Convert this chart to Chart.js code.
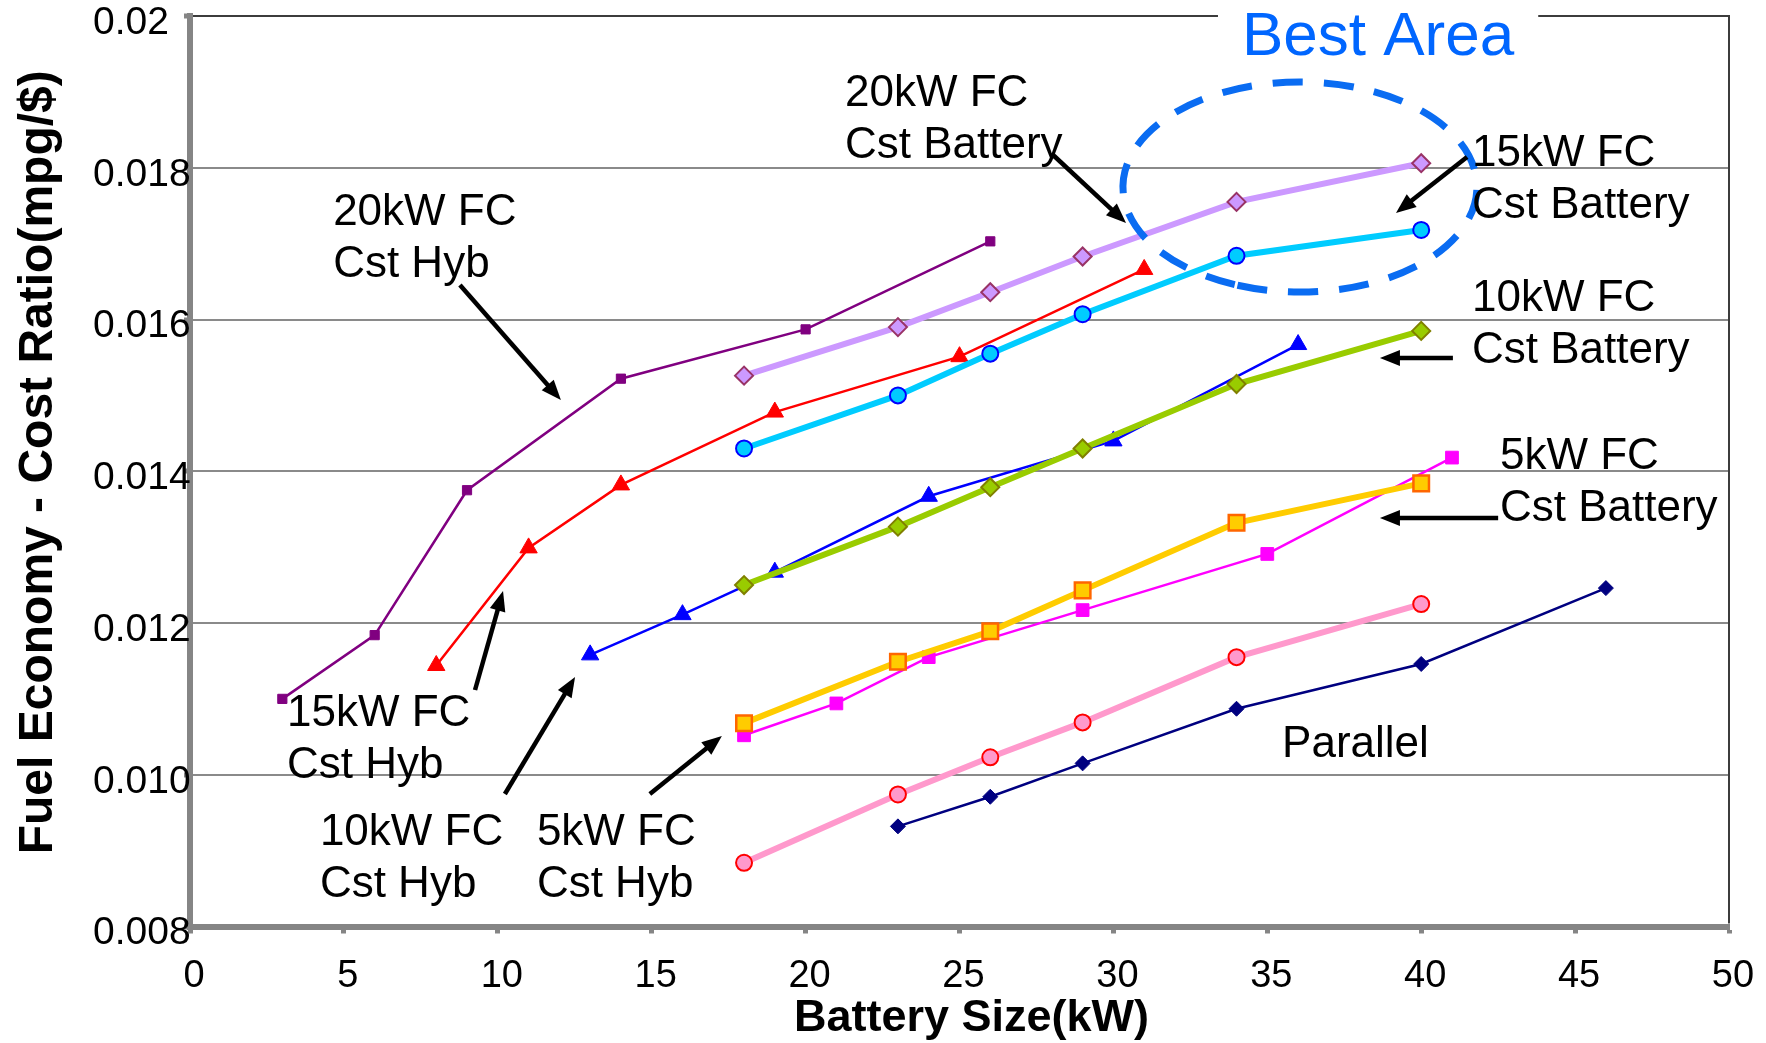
<!DOCTYPE html>
<html>
<head>
<meta charset="utf-8">
<title>Fuel Economy - Cost Ratio vs Battery Size</title>
<script src="https://cdn.jsdelivr.net/npm/chart.js@4/dist/chart.umd.min.js"></script>
<style>
  html, body { margin: 0; padding: 0; background: #ffffff; }
  #wrap { width: 1766px; height: 1043px; }
</style>
</head>
<body>
<div id="wrap"><canvas id="chart" width="1766" height="1043"></canvas></div>
<script>
// Battery sizes (kW) shared by the constant-battery series
const batteryKW = [18, 23, 26, 29, 34, 40];

// Constant-hybridization series
const hyb20KW = [3, 6, 9, 14, 20, 26];
const hyb20Ratio = [0.01100, 0.01184, 0.01375, 0.01522, 0.01587, 0.01703];
const hyb15KW = [8, 11, 14, 19, 25, 31];
const hyb15Ratio = [0.01144, 0.01299, 0.01382, 0.01478, 0.01551, 0.01666];
const hyb10KW = [13, 16, 19, 24, 30, 36];
const hyb10Ratio = [0.01158, 0.01211, 0.01267, 0.01367, 0.01440, 0.01567];
const hyb5KW = [18, 21, 24, 29, 35, 41];
const hyb5Ratio = [0.01052, 0.01094, 0.01155, 0.01217, 0.01291, 0.01418];

// Constant-battery series
const bat20Ratio = [0.01526, 0.01590, 0.01636, 0.01683, 0.01755, 0.01806];
const bat15Ratio = [0.01430, 0.01500, 0.01555, 0.01607, 0.01684, 0.01718];
const bat10Ratio = [0.01250, 0.01327, 0.01379, 0.01430, 0.01515, 0.01585];
const bat5Ratio = [0.01068, 0.01149, 0.01189, 0.01243, 0.01332, 0.01384];

// Parallel configurations
const parallelAKW = [18, 23, 26, 29, 34, 40];
const parallelARatio = [0.00884, 0.00974, 0.01023, 0.01069, 0.01155, 0.01225];
const parallelBKW = [23, 26, 29, 34, 40, 46];
const parallelBRatio = [0.00932, 0.00971, 0.01015, 0.01087, 0.01146, 0.01246];

// Axis tick labels
const yTickLabels = ['0.008', '0.010', '0.012', '0.014', '0.016', '0.018', '0.02'];
const xTickLabels = ['0', '5', '10', '15', '20', '25', '30', '35', '40', '45', '50'];

// Callout texts, anchored in data units (kW, mpg/$) at the first baseline
const callouts = [
  { lines: ['20kW FC', 'Cst Hyb'], x: 4.65, y: 0.017245 },
  { lines: ['20kW FC', 'Cst Battery'], x: 21.28, y: 0.018814 },
  { lines: ['15kW FC', 'Cst Battery'], x: 41.65, y: 0.018023 },
  { lines: ['10kW FC', 'Cst Battery'], x: 41.65, y: 0.016112 },
  { lines: ['5kW FC', 'Cst Battery'], x: 42.56, y: 0.014030 },
  { lines: ['15kW FC', 'Cst Hyb'], x: 3.15, y: 0.010642 },
  { lines: ['10kW FC', 'Cst Hyb'], x: 4.22, y: 0.009074 },
  { lines: ['5kW FC', 'Cst Hyb'], x: 11.27, y: 0.009074 },
  { lines: ['Parallel'], x: 35.48, y: 0.010234 }
];

// Pointer arrows: tail -> head, in data units
const pointers = [
  { from: [8.77, 0.016455], to: [12.05, 0.014939] },
  { from: [28.04, 0.018168], to: [30.41, 0.017272] },
  { from: [41.49, 0.018142], to: [39.18, 0.017404] },
  { from: [41.03, 0.015493], to: [38.66, 0.015493] },
  { from: [42.50, 0.013384], to: [38.66, 0.013384] },
  { from: [9.26, 0.011117], to: [10.17, 0.012422] },
  { from: [10.23, 0.009746], to: [12.51, 0.011288] },
  { from: [14.94, 0.009746], to: [17.28, 0.010511] }
];

// Highlighted region
const bestArea = { text: 'Best Area', x: 38.6, y: 0.019486, cx: 36.06, cy: 0.017746, rx: 5.75, ry: 0.001384 };

const FONT = '"Liberation Sans", Arial, Helvetica, sans-serif';
const AXIS_GRAY = '#858585';

function series(label, xs, ys, style) {
  return Object.assign({
    label,
    data: xs.map((x, i) => ({ x, y: ys[i] })),
    showLine: true,
    fill: false,
    tension: 0
  }, style);
}

const datasets = [
  series('20kW FC Cst Battery', batteryKW, bat20Ratio, {
    borderColor: '#cc99ff', borderWidth: 6,
    pointStyle: 'rectRot', pointRadius: 9,
    pointBackgroundColor: '#cc99ff', pointBorderColor: '#993366', pointBorderWidth: 2
  }),
  series('15kW FC Cst Battery', batteryKW, bat15Ratio, {
    borderColor: '#00ccff', borderWidth: 6,
    pointStyle: 'circle', pointRadius: 8,
    pointBackgroundColor: '#00ccff', pointBorderColor: '#0000ff', pointBorderWidth: 2
  }),
  series('10kW FC Cst Battery', batteryKW, bat10Ratio, {
    borderColor: '#99cc00', borderWidth: 6,
    pointStyle: 'rectRot', pointRadius: 9,
    pointBackgroundColor: '#99cc00', pointBorderColor: '#808000', pointBorderWidth: 2
  }),
  series('5kW FC Cst Battery', batteryKW, bat5Ratio, {
    borderColor: '#ffcc00', borderWidth: 6,
    pointStyle: 'rect', pointRadius: 11,
    pointBackgroundColor: '#ffcc00', pointBorderColor: '#ff6600', pointBorderWidth: 2.5
  }),
  series('Parallel A', parallelAKW, parallelARatio, {
    borderColor: '#ff99cc', borderWidth: 6,
    pointStyle: 'circle', pointRadius: 8,
    pointBackgroundColor: '#ff99cc', pointBorderColor: '#ff0000', pointBorderWidth: 2
  }),
  series('20kW FC Cst Hyb', hyb20KW, hyb20Ratio, {
    borderColor: '#800080', borderWidth: 2.5,
    pointStyle: 'rect', pointRadius: 6.5,
    pointBackgroundColor: '#800080', pointBorderColor: '#800080', pointBorderWidth: 1
  }),
  series('15kW FC Cst Hyb', hyb15KW, hyb15Ratio, {
    borderColor: '#ff0000', borderWidth: 2.5,
    pointStyle: 'triangle', pointRadius: 10,
    pointBackgroundColor: '#ff0000', pointBorderColor: '#ff0000', pointBorderWidth: 1
  }),
  series('10kW FC Cst Hyb', hyb10KW, hyb10Ratio, {
    borderColor: '#0000ff', borderWidth: 2.5,
    pointStyle: 'triangle', pointRadius: 10,
    pointBackgroundColor: '#0000ff', pointBorderColor: '#0000ff', pointBorderWidth: 1
  }),
  series('5kW FC Cst Hyb', hyb5KW, hyb5Ratio, {
    borderColor: '#ff00ff', borderWidth: 2.5,
    pointStyle: 'rect', pointRadius: 9,
    pointBackgroundColor: '#ff00ff', pointBorderColor: '#ff00ff', pointBorderWidth: 1
  }),
  series('Parallel B', parallelBKW, parallelBRatio, {
    borderColor: '#000080', borderWidth: 2.5,
    pointStyle: 'rectRot', pointRadius: 7.5,
    pointBackgroundColor: '#000080', pointBorderColor: '#000080', pointBorderWidth: 1
  })
];

function drawArrow(ctx, x0, y0, x1, y1) {
  const head = 20, half = 8;
  const ang = Math.atan2(y1 - y0, x1 - x0);
  const bx = x1 - head * Math.cos(ang), by = y1 - head * Math.sin(ang);
  ctx.beginPath();
  ctx.moveTo(x0, y0);
  ctx.lineTo(bx + 2 * Math.cos(ang), by + 2 * Math.sin(ang));
  ctx.stroke();
  ctx.beginPath();
  ctx.moveTo(x1, y1);
  ctx.lineTo(bx + half * Math.sin(ang), by - half * Math.cos(ang));
  ctx.lineTo(bx - half * Math.sin(ang), by + half * Math.cos(ang));
  ctx.closePath();
  ctx.fill();
}

const decorations = {
  id: 'decorations',
  afterDatasetsDraw(chart) {
    const { ctx, chartArea: a, scales: { x, y } } = chart;
    const px = v => x.getPixelForValue(v);
    const py = v => y.getPixelForValue(v);
    ctx.save();

    // "Best Area" heading breaking the top frame
    ctx.font = '62px ' + FONT;
    const bw = ctx.measureText(bestArea.text).width;
    const bx = px(bestArea.x);
    const gapL = bx - bw / 2 - 24, gapR = bx + bw / 2 + 24;

    // top and right frame edges
    ctx.strokeStyle = '#3c3c3c';
    ctx.lineWidth = 2;
    ctx.beginPath();
    ctx.moveTo(a.left + 3, a.top); ctx.lineTo(gapL, a.top);
    ctx.moveTo(gapR, a.top); ctx.lineTo(a.right, a.top);
    ctx.lineTo(a.right, a.bottom - 3);
    ctx.stroke();

    ctx.fillStyle = '#0066ff';
    ctx.textAlign = 'center';
    ctx.textBaseline = 'alphabetic';
    ctx.fillText(bestArea.text, bx, py(bestArea.y));

    // dashed ellipse around the best region
    ctx.strokeStyle = '#0a6cf2';
    ctx.lineWidth = 7;
    ctx.setLineDash([30, 21]);
    ctx.beginPath();
    const cx = px(bestArea.cx), cy = py(bestArea.cy);
    const rx = Math.abs(px(bestArea.cx + bestArea.rx) - cx);
    const ry = Math.abs(py(bestArea.cy + bestArea.ry) - cy);
    ctx.ellipse(cx, cy, rx, ry, 0, Math.PI * 0.62, Math.PI * 2.62);
    ctx.stroke();
    ctx.setLineDash([]);

    // callout texts
    ctx.fillStyle = '#000000';
    ctx.textAlign = 'left';
    ctx.font = '44px ' + FONT;
    callouts.forEach(c => {
      c.lines.forEach((t, i) => ctx.fillText(t, px(c.x), py(c.y) + i * 52));
    });

    // pointer arrows
    ctx.strokeStyle = '#000000';
    ctx.fillStyle = '#000000';
    ctx.lineWidth = 4.5;
    ctx.lineCap = 'butt';
    pointers.forEach(p => drawArrow(ctx, px(p.from[0]), py(p.from[1]), px(p.to[0]), py(p.to[1])));

    // horizontal axis title
    ctx.font = 'bold 45px ' + FONT;
    ctx.textAlign = 'center';
    ctx.fillText('Battery Size(kW)', (a.left + a.right) / 2 + 12, a.bottom + 104);

    // vertical axis title
    ctx.font = 'bold 48px ' + FONT;
    ctx.translate(52, (a.top + a.bottom) / 2 - 9);
    ctx.rotate(-Math.PI / 2);
    ctx.fillText('Fuel Economy - Cost Ratio(mpg/$)', 0, 0);
    ctx.restore();
  }
};

Chart.defaults.font.family = FONT;
Chart.defaults.color = '#000000';

new Chart(document.getElementById('chart'), {
  type: 'scatter',
  data: { datasets },
  options: {
    responsive: false,
    devicePixelRatio: 1,
    animation: false,
    events: [],
    layout: { padding: { left: 93, right: 37, top: 16, bottom: 0 } },
    plugins: { legend: { display: false }, tooltip: { enabled: false }, title: { display: false } },
    scales: {
      x: {
        type: 'linear',
        min: 0, max: 50,
        border: { display: true, color: AXIS_GRAY, width: 6 },
        grid: { display: true, drawOnChartArea: false, drawTicks: true, tickLength: 7, tickWidth: 5, tickColor: AXIS_GRAY },
        ticks: {
          stepSize: 5,
          padding: 20,
          labelOffset: 4,
          maxRotation: 0,
          font: { size: 38 },
          color: '#000000',
          callback: (v, i) => xTickLabels[i]
        },
        title: { display: false },
        afterFit(scale) {
          scale.height = 116.5;
          scale.paddingLeft = 0;
          scale.paddingRight = 0;
        }
      },
      y: {
        type: 'linear',
        min: 0.008, max: 0.02,
        border: { display: true, color: AXIS_GRAY, width: 6 },
        grid: {
          display: true,
          drawOnChartArea: true,
          color: ctx => (ctx.index === yTickLabels.length - 1 || ctx.index === 0) ? 'rgba(0,0,0,0)' : '#8a8a8a',
          lineWidth: 2,
          drawTicks: true,
          tickLength: 6,
          tickWidth: 5,
          tickColor: AXIS_GRAY
        },
        ticks: {
          stepSize: 0.002,
          crossAlign: 'far',
          padding: 8,
          labelOffset: 7,
          font: { size: 39 },
          color: '#000000',
          callback: (v, i) => yTickLabels[i]
        },
        afterFit(scale) {
          scale.width = 97;
          scale.paddingTop = 0;
          scale.paddingBottom = 0;
        }
      }
    }
  },
  plugins: [decorations]
});
</script>
</body>
</html>
